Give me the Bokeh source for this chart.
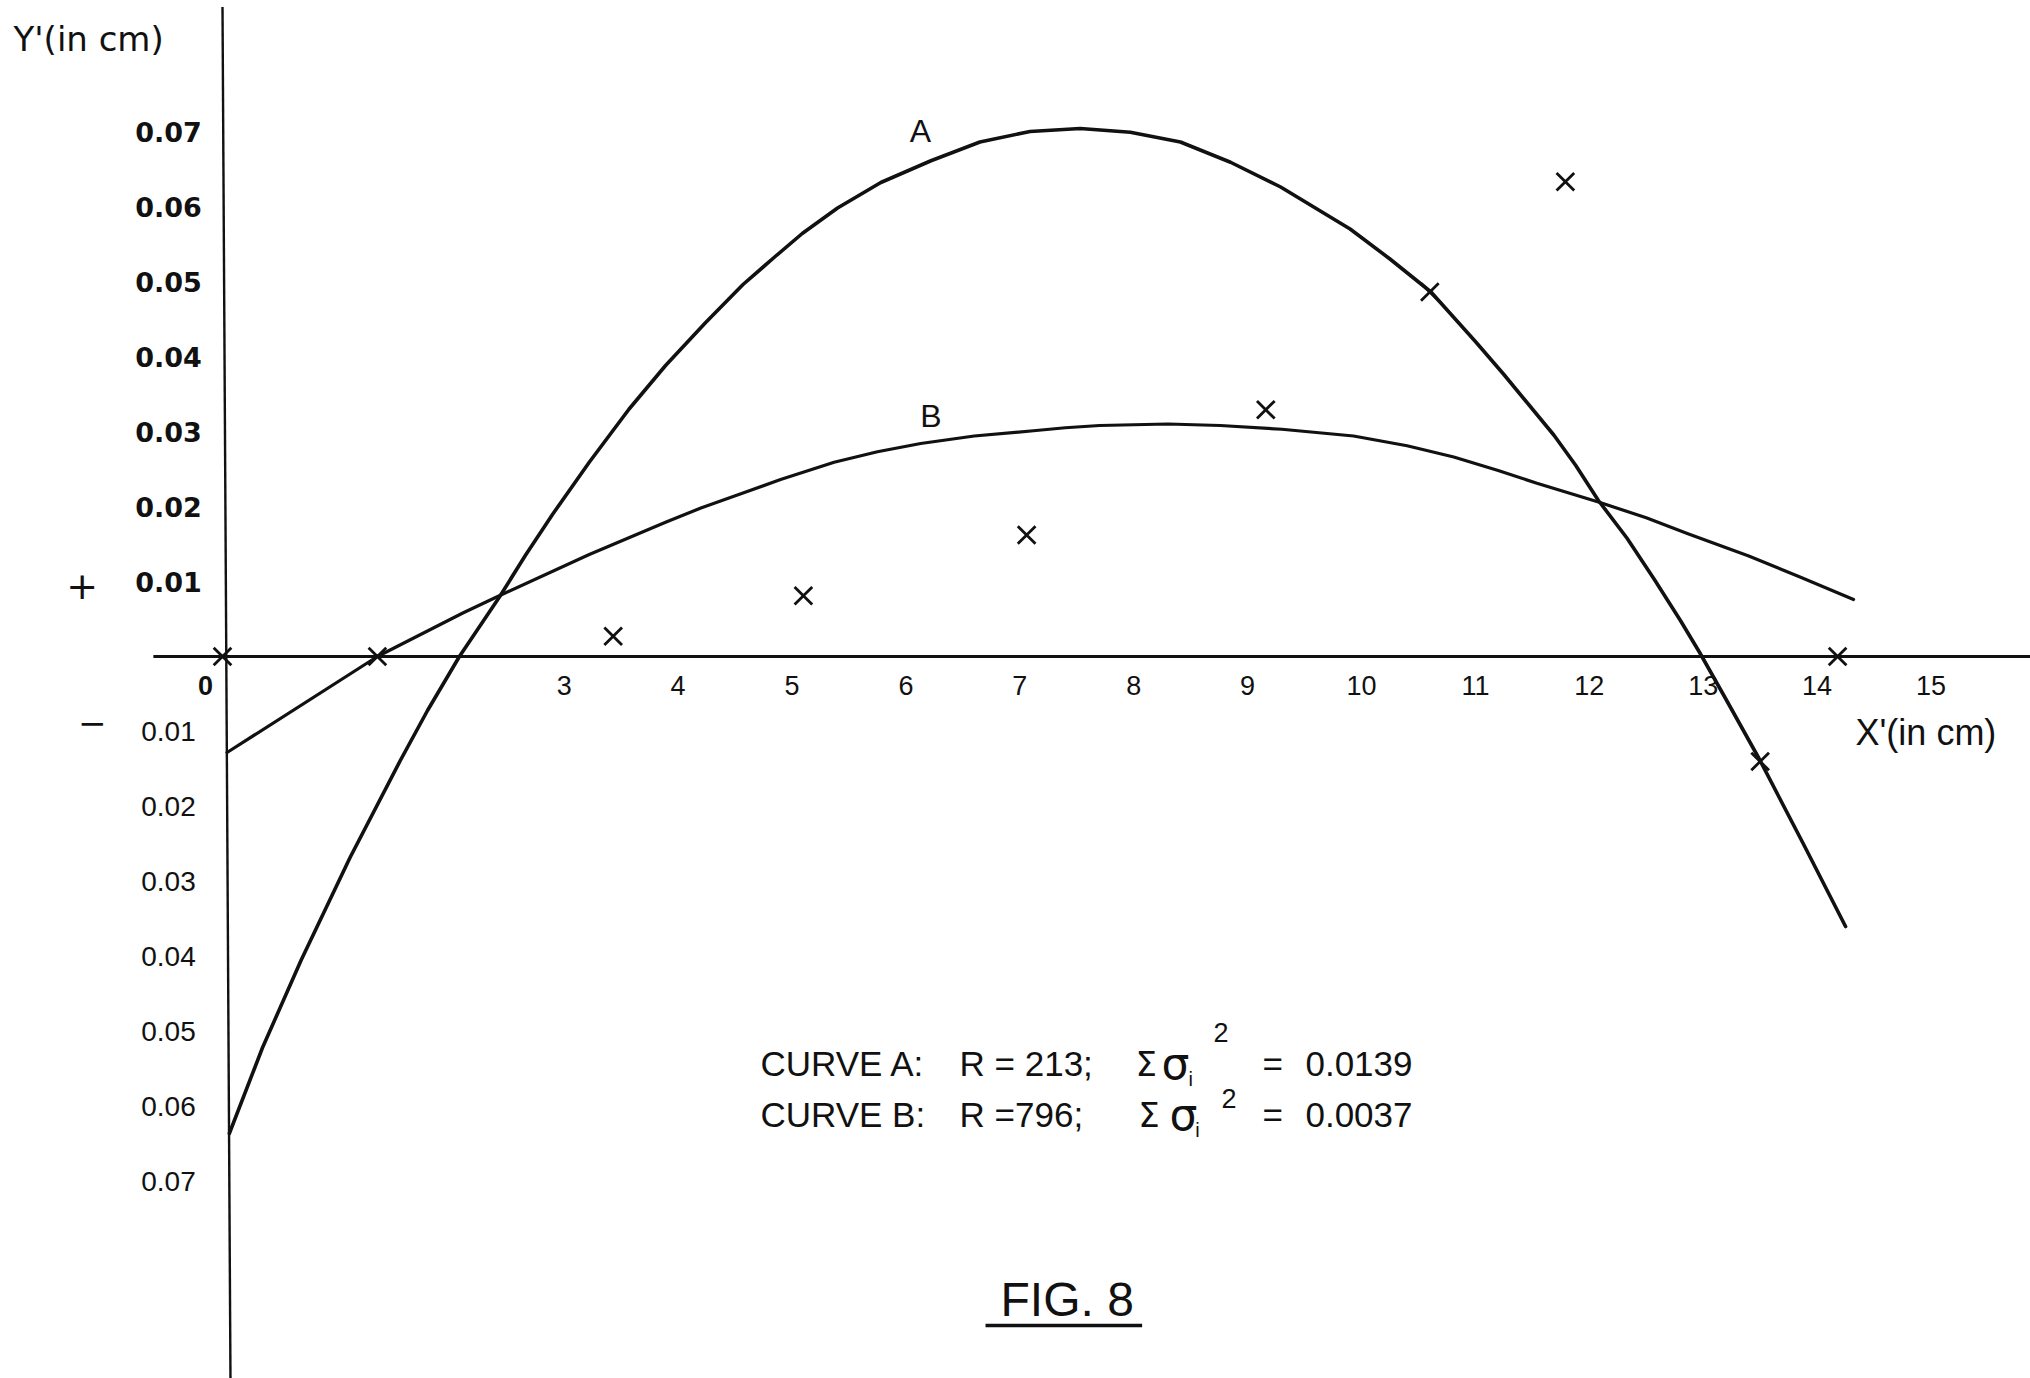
from bokeh.plotting import figure
from bokeh.core.properties import value
from bokeh.embed import file_html
from bokeh.resources import INLINE

# ---------------- data ----------------
# Curve A (R = 213)
curve_a_x = [0.06, 0.35, 0.69, 1.12, 1.56, 1.80, 2.08, 2.43, 2.66, 2.90, 3.22, 3.57, 3.89,
             4.24, 4.57, 4.85, 5.09, 5.40, 5.78, 6.22, 6.65, 7.09, 7.53, 7.97, 8.41, 8.85,
             9.29, 9.90, 10.25, 10.61, 11.00, 11.25, 11.69, 11.88, 12.08, 12.33, 12.57,
             12.80, 12.97, 13.20, 13.49, 13.88, 14.25]
curve_a_y = [-0.0636, -0.0522, -0.0405, -0.0268, -0.0139, -0.0072, 0.0, 0.0079, 0.0135,
             0.0190, 0.0259, 0.0330, 0.0388, 0.0445, 0.0496, 0.0533, 0.0564, 0.0598, 0.0632,
             0.0661, 0.0686, 0.0700, 0.0704, 0.0699, 0.0686, 0.0659, 0.0626, 0.0570, 0.0530,
             0.0486, 0.0420, 0.0376, 0.0295, 0.0255, 0.0208, 0.0158, 0.0103, 0.0048, 0.0005,
             -0.0057, -0.0136, -0.0250, -0.0360]

# Curve B (R = 796)
curve_b_x = [0.04, 1.36, 2.11, 2.43, 3.22, 3.89, 4.20, 4.57, 4.90, 5.37, 5.75, 6.13, 6.60,
             7.12, 7.40, 7.70, 8.30, 8.76, 9.30, 9.93, 10.40, 10.81, 11.20, 11.54, 12.08,
             12.50, 12.86, 13.40, 13.85, 14.32]
curve_b_y = [-0.0128, 0.0, 0.0058, 0.0081, 0.0136, 0.0179, 0.0198, 0.0218, 0.0236, 0.0259,
             0.0273, 0.0284, 0.0294, 0.0301, 0.0305, 0.0308, 0.0310, 0.0308, 0.0303, 0.0294,
             0.0281, 0.0266, 0.0248, 0.0231, 0.0206, 0.0185, 0.0164, 0.0134, 0.0106, 0.0076]

# measured points (X marks)
obs_x = [0.0, 1.36, 3.43, 5.10, 7.06, 9.16, 10.60, 11.79, 13.50, 14.18]
obs_y = [0.0, 0.0, 0.0027, 0.0081, 0.0162, 0.0329, 0.0486, 0.0633, -0.0140, 0.0]

# tick labels
x_ticks = [3, 4, 5, 6, 7, 8, 9, 10, 11, 12, 13, 14, 15]
x_tick_labels = ["3", "4", "5", "6", "7", "8", "9", "10", "11", "12", "13", "14", "15"]
y_ticks_pos = [0.07, 0.06, 0.05, 0.04, 0.03, 0.02, 0.01]
y_labels_pos = ["0.07", "0.06", "0.05", "0.04", "0.03", "0.02", "0.01"]
y_ticks_neg = [-0.01, -0.02, -0.03, -0.04, -0.05, -0.06, -0.07]
y_labels_neg = ["0.01", "0.02", "0.03", "0.04", "0.05", "0.06", "0.07"]

# curve results
curve_names = ["A", "B"]
curve_r = ["213", "796"]
curve_sum_sq = ["0.0139", "0.0037"]

# ---------------- figure ----------------
X0, X1 = -1.9491, 15.8736
Y0, Y1 = -0.096267, 0.087467

p = figure(width=2030, height=1378, x_range=(X0, X1), y_range=(Y0, Y1),
           x_axis_type=None, y_axis_type=None, toolbar_location=None,
           output_backend="svg", min_border=0)
p.outline_line_color = None
p.background_fill_color = "white"
p.border_fill_color = "white"

INK = "#111111"

# hand-drawn axes
p.line([-0.607, X1], [0.0, 0.0], line_color=INK, line_width=2.8)
p.line([0.0, 0.07], [0.0866, Y0], line_color=INK, line_width=2.4)

# curves
p.line(curve_a_x, curve_a_y, line_color=INK, line_width=3.6, line_join="round", line_cap="round")
p.line(curve_b_x, curve_b_y, line_color=INK, line_width=3.2, line_join="round", line_cap="round")

# measured points
p.scatter(obs_x, obs_y, marker="x", size=25, line_color=INK, line_width=2.8)

def txt(x, y, t, font="Liberation Sans", size="25px", align="center", baseline="middle",
        style="normal"):
    p.text(x=x, y=y, text=t, text_font=value(font), text_font_size=value(size),
           text_align=align, text_baseline=baseline, text_color=INK, text_font_style=style)

# x tick labels
txt(x_ticks, [-0.0039] * len(x_ticks), x_tick_labels, size="27px")
txt([-0.15], [-0.0039], ["0"], size="27px", style="bold")
# y tick labels
txt([-0.474] * len(y_ticks_pos), y_ticks_pos, y_labels_pos, font="DejaVu Sans", size="27px",
    style="bold")
txt([-0.474] * len(y_ticks_neg), y_ticks_neg, y_labels_neg, size="28px")
# sign markers
txt([-1.232], [0.0095], ["+"], font="DejaVu Sans", size="38px")
txt([-1.144], [-0.0088], ["\u2212"], font="DejaVu Sans", size="34px")

# axis titles
txt([-1.835], [0.0823], ["Y'(in cm)"], font="DejaVu Sans", size="34px", align="left")
txt([14.337], [-0.0101], ["X'(in cm)"], size="36px", align="left")

# curve labels
txt([6.128, 6.22], [0.0701, 0.0321], curve_names, size="32px")

# result annotation
line_y = [-0.0543, -0.0611]
txt([4.723, 4.723], line_y, ["CURVE " + n + ":" for n in curve_names], size="35px", align="left")
txt([6.471, 6.471], line_y, ["R = " + curve_r[0] + ";", "R =" + curve_r[1] + ";"], size="35px",
    align="left")
txt([8.016, 8.04], line_y, ["\u03a3", "\u03a3"], font="DejaVu Sans", size="34px", align="left")
txt([8.244, 8.314], line_y, ["\u03c3", "\u03c3"], font="DejaVu Sans", size="44px", align="left")
txt([8.50, 8.56], [-0.0563, -0.0631], ["i", "i"], size="20px")
txt([8.70, 8.77], [-0.0501, -0.0589], ["2", "2"], size="27px", align="left")
txt([9.13, 9.13], line_y, ["=", "="], size="35px", align="left")
txt([9.508, 9.508], line_y, curve_sum_sq, size="35px", align="left")

# figure caption
txt([7.416], [-0.0857], ["FIG. 8"], size="48px")
p.line([6.699, 8.074], [-0.0892, -0.0892], line_color=INK, line_width=3.5)

open("out.html", "w").write(file_html(p, INLINE))
